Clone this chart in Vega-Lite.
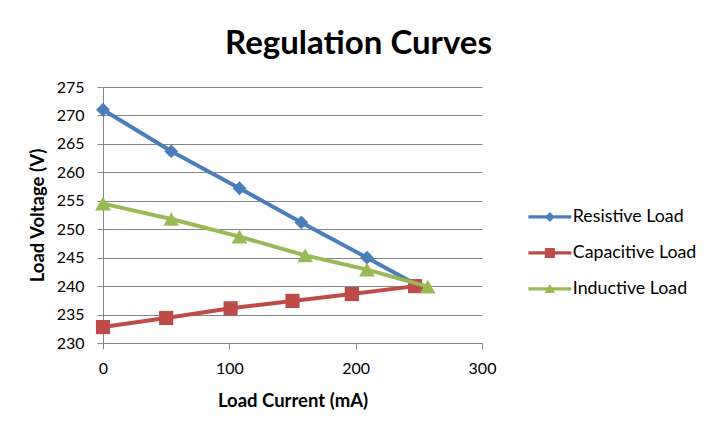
{
  "$schema": "https://vega.github.io/schema/vega-lite/v6.json",
  "description": "Regulation curves: load voltage against load current for resistive, capacitive and inductive loads.",
  "width": 379,
  "height": 256,
  "autosize": {"type": "none"},
  "padding": {"left": 103, "top": 87, "right": 239, "bottom": 97},
  "background": "white",
  "title": {
    "text": "Regulation Curves",
    "anchor": "middle",
    "dx": 66,
    "offset": 18,
    "font": "Lato",
    "fontSize": 33,
    "fontWeight": "bold",
    "color": "#000000"
  },
  "config": {
    "view": {"stroke": null},
    "font": "Lato",
    "axis": {
      "labelFont": "Lato",
      "labelFontSize": 16,
      "labelColor": "#000000",
      "titleFont": "Lato",
      "titleFontSize": 18.5,
      "titleFontWeight": "bold",
      "titleColor": "#000000",
      "domainColor": "#868686",
      "domainWidth": 1,
      "tickColor": "#868686",
      "tickSize": 6,
      "gridColor": "#868686",
      "gridWidth": 1
    },
    "legend": {
      "labelFont": "Lato",
      "labelFontSize": 17.8,
      "labelColor": "#000000"
    }
  },
  "data": {
    "values": [
      {"series": "Resistive Load", "current": 0, "voltage": 271.0},
      {"series": "Resistive Load", "current": 54, "voltage": 263.7},
      {"series": "Resistive Load", "current": 108, "voltage": 257.2},
      {"series": "Resistive Load", "current": 157, "voltage": 251.2},
      {"series": "Resistive Load", "current": 209, "voltage": 245.0},
      {"series": "Resistive Load", "current": 250, "voltage": 240.0},
      {"series": "Capacitive Load", "current": 0, "voltage": 232.8},
      {"series": "Capacitive Load", "current": 50, "voltage": 234.4},
      {"series": "Capacitive Load", "current": 101, "voltage": 236.1},
      {"series": "Capacitive Load", "current": 150, "voltage": 237.4},
      {"series": "Capacitive Load", "current": 197, "voltage": 238.6},
      {"series": "Capacitive Load", "current": 247, "voltage": 240.0},
      {"series": "Inductive Load", "current": 0, "voltage": 254.5},
      {"series": "Inductive Load", "current": 54, "voltage": 251.8},
      {"series": "Inductive Load", "current": 108, "voltage": 248.7},
      {"series": "Inductive Load", "current": 160, "voltage": 245.4},
      {"series": "Inductive Load", "current": 209, "voltage": 242.9},
      {"series": "Inductive Load", "current": 257, "voltage": 239.9}
    ]
  },
  "encoding": {
    "x": {
      "field": "current",
      "type": "quantitative",
      "title": "Load Current (mA)",
      "scale": {"domain": [0, 300], "nice": false, "zero": false},
      "axis": {
        "values": [0, 100, 200, 300],
        "grid": false,
        "labelFlush": false,
        "labelPadding": 11,
        "titlePadding": 15
      }
    },
    "y": {
      "field": "voltage",
      "type": "quantitative",
      "title": "Load Voltage (V)",
      "scale": {"domain": [230, 275], "nice": false, "zero": false},
      "axis": {
        "values": [230, 235, 240, 245, 250, 255, 260, 265, 270, 275],
        "grid": true,
        "labelPadding": 13,
        "titlePadding": 9
      }
    }
  },
  "layer": [
    {
      "mark": {"type": "point", "filled": true, "opacity": 1, "strokeWidth": 0, "size": 4},
      "encoding": {
        "fill": {
          "field": "series",
          "type": "nominal",
          "scale": {
            "domain": ["Resistive Load", "Capacitive Load", "Inductive Load"],
            "range": ["#4A7EBB", "#BE4B48", "#98B954"]
          },
          "legend": {
            "title": null,
            "orient": "none",
            "legendX": 438,
            "legendY": 121,
            "padding": 0,
            "symbolSize": 100,
            "symbolStrokeWidth": 0,
            "symbolOpacity": 1,
            "labelOffset": 14,
            "rowPadding": 17
          }
        },
        "shape": {
          "field": "series",
          "type": "nominal",
          "scale": {
            "domain": ["Resistive Load", "Capacitive Load", "Inductive Load"],
            "range": [
              "M-4.3,-0.32H4.3V0.32H-4.3Z M0,-1L1,0L0,1L-1,0Z",
              "M-4.3,-0.32H4.3V0.32H-4.3Z M-1,-1H1V1H-1Z",
              "M-4.3,-0.32H4.3V0.32H-4.3Z M0,-1L1.05,0.8H-1.05Z"
            ]
          },
          "legend": {
            "title": null,
            "orient": "none",
            "legendX": 438,
            "legendY": 121,
            "padding": 0,
            "symbolSize": 100,
            "symbolStrokeWidth": 0,
            "symbolOpacity": 1,
            "labelOffset": 14,
            "rowPadding": 17
          }
        }
      }
    },
    {
      "transform": [{"filter": "datum.series == 'Resistive Load'"}],
      "layer": [
        {"mark": {"type": "line", "strokeWidth": 4, "strokeJoin": "round", "color": "#4A7EBB"}, "encoding": {}},
        {"mark": {"type": "point", "shape": "diamond", "filled": true, "opacity": 1, "size": 190, "strokeWidth": 0, "color": "#4A7EBB"}}
      ]
    },
    {
      "transform": [{"filter": "datum.series == 'Capacitive Load'"}],
      "layer": [
        {"mark": {"type": "line", "strokeWidth": 4, "strokeJoin": "round", "color": "#BE4B48"}, "encoding": {}},
        {"mark": {"type": "point", "shape": "square", "filled": true, "opacity": 1, "size": 200, "strokeWidth": 0, "color": "#BE4B48"}}
      ]
    },
    {
      "transform": [{"filter": "datum.series == 'Inductive Load'"}],
      "layer": [
        {"mark": {"type": "line", "strokeWidth": 4, "strokeJoin": "round", "color": "#98B954"}, "encoding": {}},
        {"mark": {"type": "point", "shape": "triangle-up", "filled": true, "opacity": 1, "size": 250, "strokeWidth": 0, "color": "#98B954"}}
      ]
    }
  ]
}
